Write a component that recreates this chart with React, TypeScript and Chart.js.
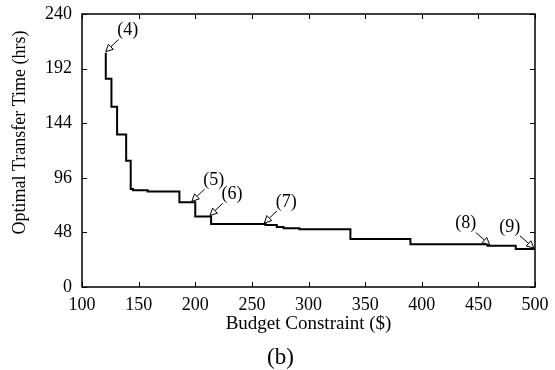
import React, { useEffect, useRef } from "react";
import { Chart, registerables } from "chart.js";

Chart.register(...registerables);

// Step curve: each point gives the transfer time that starts at that budget
const budget = [121, 121, 126, 131, 139, 143, 145, 158, 186, 200, 214, 262, 272, 278, 292, 337, 390, 458, 483, 500];
const transferTime = [206, 183, 158.5, 134, 111, 86.2, 85.1, 84, 74.5, 62, 55.4, 54.5, 52.7, 51.6, 50.7, 42.2, 37.5, 36.3, 33.4, 33.4];

const xTickValues = [100, 150, 200, 250, 300, 350, 400, 450, 500];
const yTickValues = [0, 48, 96, 144, 192, 240];

const annotLabels = ["(4)", "(5)", "(6)", "(7)", "(8)", "(9)"];
const annotBudget = [121, 197, 213, 261, 460, 499];
const annotTime = [206, 74.5, 62, 55.4, 36.3, 33.4];
const annotSide = ["right", "right", "right", "right", "left", "left"];

const xTitle = "Budget Constraint ($)";
const yTitle = "Optimal Transfer Time (hrs)";
const caption = "(b)";

const FONT = "'Liberation Serif', 'Times New Roman', serif";

const decorPlugin = {
  id: "decor",
  afterDraw(chart: any) {
    const { ctx, chartArea } = chart;
    const xs = chart.scales.x;
    const ys = chart.scales.y;
    const { left, right, top, bottom } = chartArea;
    ctx.save();
    ctx.strokeStyle = "#000";
    ctx.fillStyle = "#000";
    // frame
    ctx.lineWidth = 1.5;
    ctx.strokeRect(left, top, right - left, bottom - top);
    // inward ticks on all sides
    ctx.lineWidth = 1;
    const tl = 5;
    ctx.beginPath();
    xTickValues.forEach((v) => {
      const px = Math.round(xs.getPixelForValue(v)) + 0.5;
      ctx.moveTo(px, bottom);
      ctx.lineTo(px, bottom - tl);
      ctx.moveTo(px, top);
      ctx.lineTo(px, top + tl);
    });
    yTickValues.forEach((v) => {
      const py = Math.round(ys.getPixelForValue(v)) + 0.5;
      ctx.moveTo(left, py);
      ctx.lineTo(left + tl, py);
      ctx.moveTo(right, py);
      ctx.lineTo(right - tl, py);
    });
    ctx.stroke();

    // annotations
    ctx.font = `18px ${FONT}`;
    ctx.textAlign = "center";
    ctx.textBaseline = "middle";
    annotLabels.forEach((lab, i) => {
      const tx = xs.getPixelForValue(annotBudget[i]);
      const ty = ys.getPixelForValue(annotTime[i]) - 1;
      const dx = annotSide[i] === "right" ? 22 : -24;
      const dy = -21;
      ctx.fillText(lab, tx + dx, ty + dy);
      const len = Math.hypot(dx, dy);
      const ux = dx / len;
      const uy = dy / len;
      const tailLen = len * 0.58;
      const headLen = 7;
      const headW = 3.5;
      const bx = tx + ux * headLen;
      const by = ty + uy * headLen;
      ctx.lineWidth = 1;
      ctx.beginPath();
      ctx.moveTo(tx + ux * tailLen, ty + uy * tailLen);
      ctx.lineTo(bx, by);
      ctx.stroke();
      ctx.beginPath();
      ctx.moveTo(tx, ty);
      ctx.lineTo(bx - uy * headW, by + ux * headW);
      ctx.lineTo(bx + uy * headW, by - ux * headW);
      ctx.closePath();
      ctx.fillStyle = "#fff";
      ctx.fill();
      ctx.stroke();
      ctx.fillStyle = "#000";
    });

    // axis titles
    ctx.font = `19px ${FONT}`;
    ctx.textAlign = "center";
    ctx.textBaseline = "middle";
    ctx.fillText(xTitle, (left + right) / 2, bottom + 37);
    ctx.save();
    ctx.translate(20, (top + bottom) / 2 - 18);
    ctx.rotate(-Math.PI / 2);
    ctx.font = `18px ${FONT}`;
    ctx.fillText(yTitle, 0, 0);
    ctx.restore();
    ctx.font = `23px ${FONT}`;
    ctx.fillText(caption, (left + right) / 2 - 28, bottom + 71);
    ctx.restore();
  },
};

export default function App() {
  const ref = useRef<HTMLCanvasElement | null>(null);
  useEffect(() => {
    if (!ref.current) return;
    const points = budget.map((b, i) => ({ x: b, y: transferTime[i] }));
    const chart = new Chart(ref.current, {
      type: "line",
      data: {
        datasets: [
          {
            data: points,
            borderColor: "#000",
            borderWidth: 2,
            pointRadius: 0,
            stepped: "before",
            fill: false,
          },
        ],
      },
      options: {
        animation: false,
        responsive: false,
        layout: { padding: { top: 14, right: 20, left: 0, bottom: 0 } },
        plugins: { legend: { display: false }, tooltip: { enabled: false } },
        scales: {
          x: {
            type: "linear",
            min: 100,
            max: 500,
            grid: { display: false },
            border: { display: false },
            afterBuildTicks: (s: any) => {
              s.ticks = xTickValues.map((v) => ({ value: v }));
            },
            afterFit: (s: any) => {
              s.height = 83;
            },
            ticks: {
              padding: -1,
              color: "#000",
              font: { family: FONT, size: 18 },
              maxRotation: 0,
            },
          },
          y: {
            type: "linear",
            min: 0,
            max: 240,
            grid: { display: false },
            border: { display: false },
            afterBuildTicks: (s: any) => {
              s.ticks = yTickValues.map((v) => ({ value: v }));
            },
            afterFit: (s: any) => {
              s.width = 82;
            },
            ticks: {
              padding: 2,
              color: "#000",
              font: { family: FONT, size: 18 },
            },
          },
        },
      },
      plugins: [decorPlugin],
    });
    return () => chart.destroy();
  }, []);
  return (
    <div style={{ position: "absolute", left: 0, top: 0, width: 555, height: 370, background: "#fff" }}>
      <canvas ref={ref} width={555} height={370} style={{ display: "block" }} />
    </div>
  );
}
